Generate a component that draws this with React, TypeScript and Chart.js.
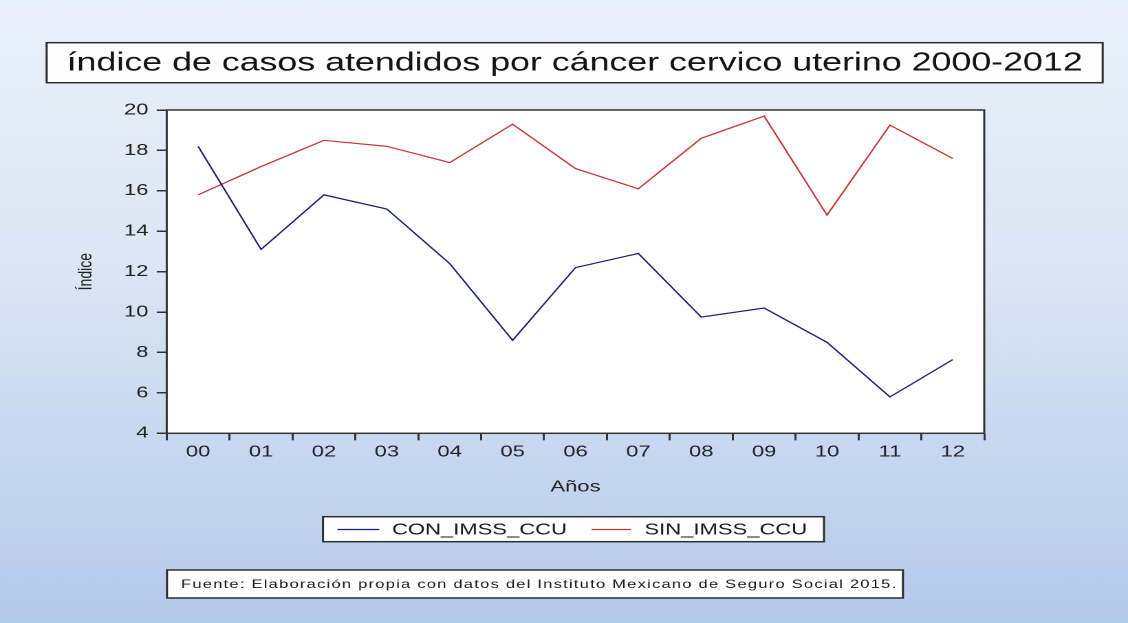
import React, { useEffect, useRef } from 'react';
import { Chart, registerables } from 'chart.js';

Chart.register(...registerables);

// ---- data ----
const years = ['00', '01', '02', '03', '04', '05', '06', '07', '08', '09', '10', '11', '12'];
const conImss = [18.2, 13.1, 15.8, 15.1, 12.4, 8.6, 12.2, 12.9, 9.75, 10.2, 8.5, 5.8, 7.65];
const sinImss = [15.8, 17.2, 18.5, 18.2, 17.4, 19.3, 17.1, 16.1, 18.6, 19.7, 14.8, 19.25, 17.6];
const seriesNames = ['CON_IMSS_CCU', 'SIN_IMSS_CCU'];
const seriesColors = ['#1f1f6e', '#c43838'];
const yMin = 4;
const yMax = 20;
const yStep = 2;
const titleText = 'índice de casos atendidos por cáncer cervico uterino 2000-2012';
const xTitle = 'Años';
const yTitle = 'Índice';
const sourceText = 'Fuente: Elaboración propia con datos del Instituto Mexicano de Seguro Social 2015.';

// ---- layout ----
const W = 1128;
const H = 623;
const CW = 820; // canvas drawn narrower, then stretched horizontally like the reference
const SX = W / CW;
const FONT = '"Liberation Sans", Arial, Helvetica, sans-serif';

function box(ctx: CanvasRenderingContext2D, x: number, y: number, w: number, h: number) {
  ctx.fillStyle = '#fefefe';
  ctx.fillRect(x, y, w, h);
  ctx.strokeStyle = '#2e2e2e';
  ctx.lineWidth = 1.5;
  ctx.strokeRect(x, y, w, h);
}

const decor = {
  id: 'decor',
  beforeDraw(chart: any) {
    const { ctx, chartArea: a } = chart;
    ctx.save();
    const g = ctx.createLinearGradient(0, 0, 0, H);
    g.addColorStop(0, '#e9f0f9');
    g.addColorStop(0.4, '#dde7f5');
    g.addColorStop(1, '#b4caeb');
    ctx.fillStyle = g;
    ctx.fillRect(0, 0, CW, H);
    ctx.fillStyle = '#ffffff';
    ctx.fillRect(a.left, a.top, a.right - a.left, a.bottom - a.top);
    ctx.restore();
  },
  afterDraw(chart: any) {
    const { ctx, chartArea: a } = chart;
    ctx.save();
    // plot frame
    ctx.strokeStyle = '#333333';
    ctx.lineWidth = 1.5;
    ctx.strokeRect(a.left, a.top, a.right - a.left, a.bottom - a.top);

    // title box
    box(ctx, 33.9, 42.7, 767.7, 40);
    ctx.fillStyle = '#141414';
    ctx.font = `26px ${FONT}`;
    ctx.textAlign = 'center';
    ctx.textBaseline = 'middle';
    ctx.fillText(titleText, 33.9 + 767.7 / 2, 63.5);

    // legend box
    box(ctx, 234.8, 516.7, 364.2, 25);
    const ly = 529.5;
    const items = [
      { x0: 245.4, x1: 275.8, tx: 285 },
      { x0: 430.1, x1: 458.7, tx: 468.5 },
    ];
    chart.data.datasets.forEach((ds: any, i: number) => {
      const it = items[i];
      ctx.strokeStyle = ds.borderColor;
      ctx.lineWidth = 1.3;
      ctx.beginPath();
      ctx.moveTo(it.x0, ly);
      ctx.lineTo(it.x1, ly);
      ctx.stroke();
      ctx.fillStyle = '#1a1a1a';
      ctx.font = `16px ${FONT}`;
      ctx.textAlign = 'left';
      ctx.textBaseline = 'middle';
      ctx.fillText(ds.label, it.tx, ly + 0.5);
    });

    // source box
    box(ctx, 121.4, 570, 535, 28);
    ctx.fillStyle = '#1a1a1a';
    ctx.font = `12px ${FONT}`;
    (ctx as any).letterSpacing = '0.9px';
    ctx.textAlign = 'left';
    ctx.textBaseline = 'middle';
    ctx.fillText(sourceText, 131.6, 584.5);
    ctx.restore();
  },
};

export default function App() {
  const ref = useRef<HTMLCanvasElement>(null);
  useEffect(() => {
    if (!ref.current) return;
    const chart = new Chart(ref.current, {
      type: 'line',
      data: {
        labels: years,
        datasets: [
          {
            label: seriesNames[0],
            data: conImss,
            borderColor: seriesColors[0],
            backgroundColor: seriesColors[0],
            borderWidth: 1.2,
            pointRadius: 0,
            tension: 0,
          },
          {
            label: seriesNames[1],
            data: sinImss,
            borderColor: seriesColors[1],
            backgroundColor: seriesColors[1],
            borderWidth: 1.2,
            pointRadius: 0,
            tension: 0,
          },
        ],
      },
      options: {
        responsive: false,
        animation: false,
        devicePixelRatio: 2,
        layout: { padding: { left: 0, top: 110, right: 104.5, bottom: 119.7 } },
        plugins: {
          legend: { display: false },
          title: { display: false },
          tooltip: { enabled: false },
        },
        scales: {
          x: {
            type: 'category',
            offset: true,
            grid: {
              offset: true,
              drawOnChartArea: false,
              drawTicks: true,
              tickLength: 7,
              color: '#333333',
              lineWidth: 1.5,
            },
            border: { display: false },
            ticks: {
              font: { family: FONT, size: 16 },
              color: '#222222',
              padding: 2,
              maxRotation: 0,
              autoSkip: false,
            },
            title: {
              display: true,
              text: xTitle,
              font: { family: FONT, size: 16 },
              color: '#222222',
              padding: { top: 0, bottom: 6.7 },
            },
            afterFit: (s: any) => {
              s.height = 70;
            },
          },
          y: {
            min: yMin,
            max: yMax,
            ticks: {
              stepSize: yStep,
              font: { family: FONT, size: 16 },
              color: '#222222',
              padding: 6,
            },
            grid: {
              drawOnChartArea: false,
              drawTicks: true,
              tickLength: 7.3,
              color: '#333333',
              lineWidth: 1.5,
            },
            border: { display: false },
            title: {
              display: true,
              text: yTitle,
              font: { family: FONT, size: 14 },
              color: '#222222',
              padding: { top: 54, bottom: 0 },
            },
            afterFit: (s: any) => {
              s.width = 121.2;
            },
          },
        },
      },
      plugins: [decor],
    });
    return () => chart.destroy();
  }, []);

  return (
    <div style={{ position: 'absolute', left: 0, top: 0, width: W, height: H, overflow: 'hidden' }}>
      <div style={{ width: CW, height: H, transform: `scaleX(${SX})`, transformOrigin: '0 0' }}>
        <canvas ref={ref} width={CW} height={H} style={{ display: 'block', width: CW, height: H }} />
      </div>
    </div>
  );
}
